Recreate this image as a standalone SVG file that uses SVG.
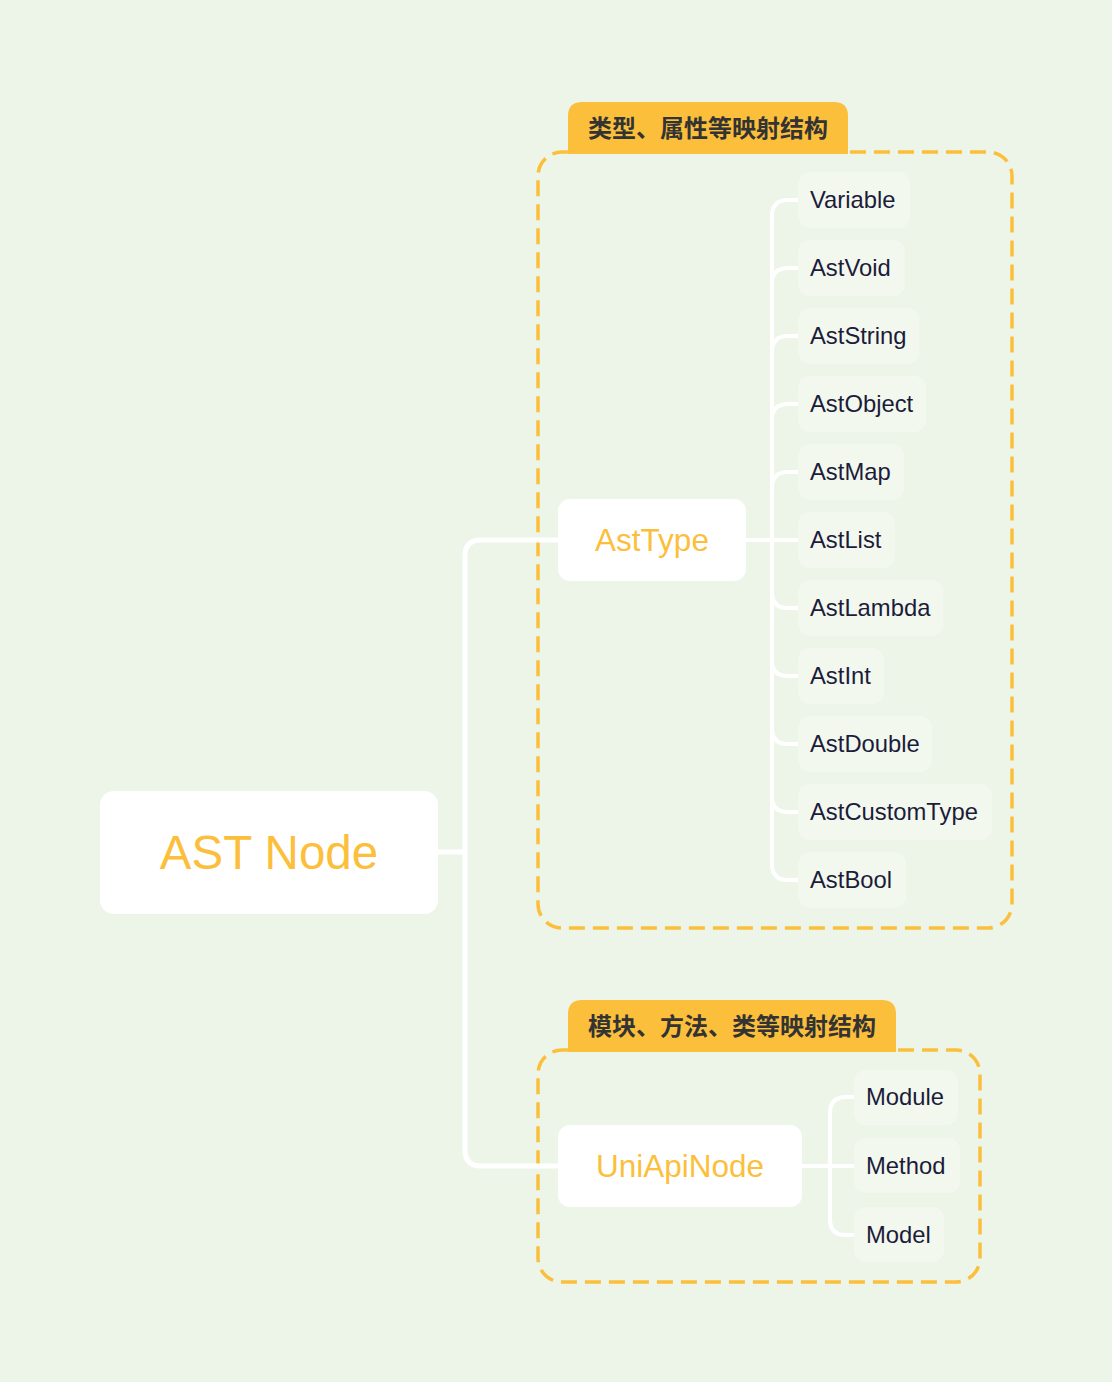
<svg xmlns="http://www.w3.org/2000/svg" width="1112" height="1382" viewBox="0 0 1112 1382">
<style>
.bg{fill:#edf5e9}
.group{fill:none;stroke:#fbbf3c;stroke-width:3.5;stroke-dasharray:16 8}
.tab{fill:#fbbf3c}
.tabtxt{font-family:"Noto Sans CJK SC","Noto Sans",sans-serif;font-weight:bold;font-size:24px;fill:#333333}
.main{fill:#ffffff}
.maintxt{font-family:"Liberation Sans",Arial,sans-serif;fill:#fbbf3c;text-anchor:middle}
.leaf{fill:#f3f8ef}
.leaftxt{font-family:"Liberation Sans",Arial,sans-serif;font-size:23.8px;fill:#1c1c3a}
.conn{fill:none;stroke:#ffffff;stroke-linecap:round;stroke-linejoin:round}
.c1{stroke-width:5}
.c2{stroke-width:4}
</style>
<rect class="bg" x="0" y="0" width="1112" height="1382"/>

<g id="group-asttype">
<rect class="group" x="538" y="152" width="474" height="776" rx="24"/>
<path class="tab" d="M568 154 V116 Q568 102 582 102 H834 Q848 102 848 116 V154 Z"/>
<text class="tabtxt" x="588" y="137">类型、属性等映射结构</text>
</g>
<g id="group-uniapi">
<rect class="group" x="538" y="1050" width="442" height="232" rx="24"/>
<path class="tab" d="M568 1052 V1014 Q568 1000 582 1000 H882 Q896 1000 896 1014 V1052 Z"/>
<text class="tabtxt" x="588" y="1035">模块、方法、类等映射结构</text>
</g>

<g id="connectors">
<path class="conn c1" d="M438 852 H465"/>
<path class="conn c1" d="M465 852 V556 Q465 540 481 540 H558"/>
<path class="conn c1" d="M465 852 V1150 Q465 1166 481 1166 H558"/>
<path class="conn c2" d="M746 540 H798"/>
<path class="conn c2" d="M772 540 V216 Q772 200 788 200 H798"/>
<path class="conn c2" d="M772 540 V284 Q772 268 788 268 H798"/>
<path class="conn c2" d="M772 540 V352 Q772 336 788 336 H798"/>
<path class="conn c2" d="M772 540 V420 Q772 404 788 404 H798"/>
<path class="conn c2" d="M772 540 V488 Q772 472 788 472 H798"/>
<path class="conn c2" d="M772 540 V592 Q772 608 788 608 H798"/>
<path class="conn c2" d="M772 540 V660 Q772 676 788 676 H798"/>
<path class="conn c2" d="M772 540 V728 Q772 744 788 744 H798"/>
<path class="conn c2" d="M772 540 V796 Q772 812 788 812 H798"/>
<path class="conn c2" d="M772 540 V864 Q772 880 788 880 H798"/>
<path class="conn c2" d="M802 1166 H854"/>
<path class="conn c2" d="M830 1166 V1113 Q830 1097 846 1097 H854"/>
<path class="conn c2" d="M830 1166 V1219 Q830 1235 846 1235 H854"/>
</g>

<g id="ast-node">
<rect class="main" x="100" y="791" width="338" height="123" rx="14"/>
<text class="maintxt" x="269" y="869" font-size="47.5">AST Node</text>
</g>
<g id="asttype">
<rect class="main" x="558" y="499" width="188" height="82" rx="12"/>
<text class="maintxt" x="652" y="551" font-size="31.5">AstType</text>
</g>
<g id="uniapinode">
<rect class="main" x="558" y="1125" width="244" height="82" rx="12"/>
<text class="maintxt" x="680" y="1177" font-size="31.5">UniApiNode</text>
</g>

<g id="variable"><rect class="leaf" x="798" y="172" width="112" height="56" rx="12"/><text class="leaftxt" x="810" y="208">Variable</text></g>
<g id="astvoid"><rect class="leaf" x="798" y="240" width="107" height="56" rx="12"/><text class="leaftxt" x="810" y="276">AstVoid</text></g>
<g id="aststring"><rect class="leaf" x="798" y="308" width="121" height="56" rx="12"/><text class="leaftxt" x="810" y="344">AstString</text></g>
<g id="astobject"><rect class="leaf" x="798" y="376" width="128" height="56" rx="12"/><text class="leaftxt" x="810" y="412">AstObject</text></g>
<g id="astmap"><rect class="leaf" x="798" y="444" width="106" height="56" rx="12"/><text class="leaftxt" x="810" y="480">AstMap</text></g>
<g id="astlist"><rect class="leaf" x="798" y="512" width="97" height="56" rx="12"/><text class="leaftxt" x="810" y="548">AstList</text></g>
<g id="astlambda"><rect class="leaf" x="798" y="580" width="145" height="56" rx="12"/><text class="leaftxt" x="810" y="616">AstLambda</text></g>
<g id="astint"><rect class="leaf" x="798" y="648" width="86" height="56" rx="12"/><text class="leaftxt" x="810" y="684">AstInt</text></g>
<g id="astdouble"><rect class="leaf" x="798" y="716" width="134" height="56" rx="12"/><text class="leaftxt" x="810" y="752">AstDouble</text></g>
<g id="astcustomtype"><rect class="leaf" x="798" y="784" width="194" height="56" rx="12"/><text class="leaftxt" x="810" y="820">AstCustomType</text></g>
<g id="astbool"><rect class="leaf" x="798" y="852" width="108" height="56" rx="12"/><text class="leaftxt" x="810" y="888">AstBool</text></g>

<g id="module"><rect class="leaf" x="854" y="1070" width="104" height="55" rx="12"/><text class="leaftxt" x="866" y="1105">Module</text></g>
<g id="method"><rect class="leaf" x="854" y="1138" width="106" height="55" rx="12"/><text class="leaftxt" x="866" y="1174">Method</text></g>
<g id="model"><rect class="leaf" x="854" y="1207" width="90" height="55" rx="12"/><text class="leaftxt" x="866" y="1243">Model</text></g>
</svg>
